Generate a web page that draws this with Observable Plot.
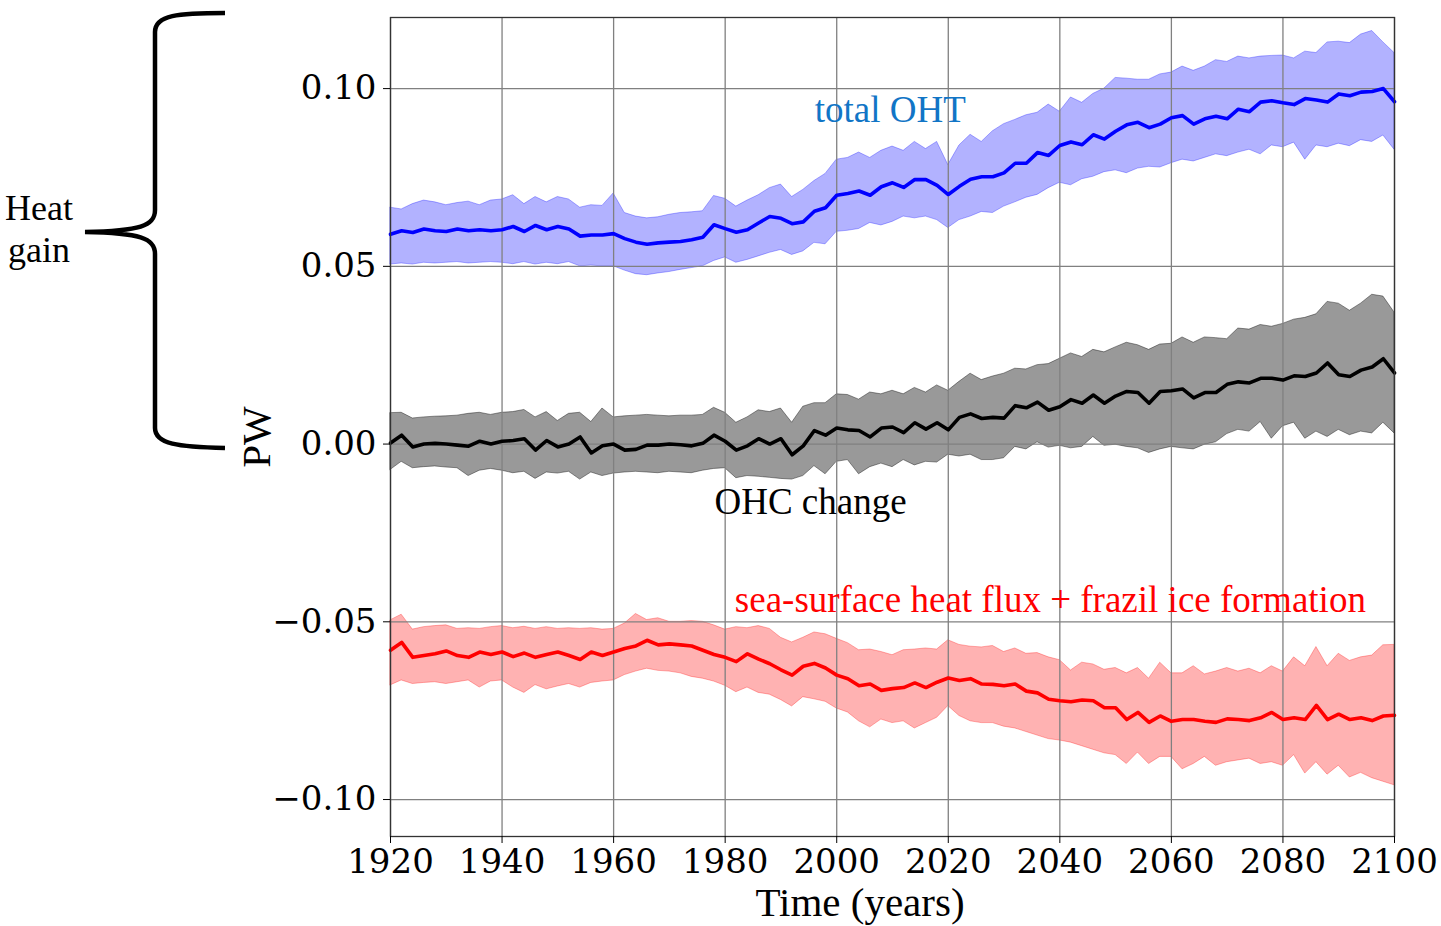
<!DOCTYPE html>
<html>
<head>
<meta charset="utf-8">
<script src="https://cdn.jsdelivr.net/npm/d3@7"></script>
<script src="https://cdn.jsdelivr.net/npm/@observablehq/plot@0.6"></script>
<style>
  html, body { margin: 0; padding: 0; background: #fff; }
  #chart svg { display: block; }
</style>
</head>
<body>
<div id="chart"></div>
<script>
// ---------- data ----------
const years = [1920,1922,1924,1926,1928,1930,1932,1934,1936,1938,1940,1942,1944,1946,1948,1950,1952,1954,1956,1958,
1960,1962,1964,1966,1968,1970,1972,1974,1976,1978,1980,1982,1984,1986,1988,1990,1992,1994,1996,1998,
2000,2002,2004,2006,2008,2010,2012,2014,2016,2018,2020,2022,2024,2026,2028,2030,2032,2034,2036,2038,
2040,2042,2044,2046,2048,2050,2052,2054,2056,2058,2060,2062,2064,2066,2068,2070,2072,2074,2076,2078,
2080,2082,2084,2086,2088,2090,2092,2094,2096,2098,2100];

const ohtMean = [0.0590,0.0600,0.0595,0.0605,0.0600,0.0598,0.0605,0.0600,0.0603,0.0600,0.0603,0.0612,0.0598,0.0615,0.0603,0.0612,0.0605,0.0585,0.0588,0.0588,
0.0592,0.0578,0.0568,0.0562,0.0566,0.0568,0.0570,0.0575,0.0582,0.0617,0.0606,0.0596,0.0603,0.0622,0.0640,0.0635,0.0620,0.0625,0.0655,0.0665,
0.0700,0.0705,0.0712,0.0700,0.0724,0.0735,0.0722,0.0744,0.0744,0.0728,0.0702,0.0725,0.0745,0.0752,0.0752,0.0763,0.0790,0.0790,0.0820,0.0812,
0.0840,0.0850,0.0842,0.0870,0.0858,0.0880,0.0898,0.0905,0.0890,0.0900,0.0918,0.0924,0.0900,0.0915,0.0922,0.0915,0.0942,0.0935,0.0962,0.0966,
0.0960,0.0955,0.0972,0.0968,0.0962,0.0985,0.0980,0.0990,0.0992,0.1000,0.0963];
const ohtHi = [0.0665,0.0660,0.0675,0.0685,0.0680,0.0672,0.0678,0.0682,0.0672,0.0685,0.0688,0.0700,0.0675,0.0695,0.0680,0.0695,0.0688,0.0665,0.0672,0.0670,
0.0705,0.0650,0.0640,0.0635,0.0638,0.0645,0.0650,0.0652,0.0655,0.0698,0.0690,0.0668,0.0685,0.0700,0.0720,0.0730,0.0695,0.0715,0.0740,0.0760,
0.0800,0.0805,0.0820,0.0805,0.0825,0.0837,0.0825,0.0850,0.0830,0.0850,0.0785,0.0840,0.0870,0.0850,0.0880,0.0900,0.0912,0.0925,0.0932,0.0955,
0.0935,0.0975,0.0960,0.0985,0.1000,0.1030,0.1028,0.1025,0.1025,0.1040,0.1045,0.1062,0.1050,0.1062,0.1080,0.1075,0.1090,0.1085,0.1090,0.1092,
0.1093,0.1085,0.1104,0.1100,0.1130,0.1132,0.1128,0.1152,0.1162,0.1130,0.1100];
const ohtLo = [0.0505,0.0508,0.0505,0.0510,0.0508,0.0510,0.0512,0.0508,0.0510,0.0512,0.0510,0.0506,0.0512,0.0505,0.0510,0.0506,0.0512,0.0500,0.0502,0.0500,
0.0500,0.0488,0.0478,0.0475,0.0480,0.0484,0.0490,0.0495,0.0500,0.0515,0.0525,0.0510,0.0518,0.0528,0.0538,0.0546,0.0532,0.0542,0.0566,0.0562,
0.0597,0.0600,0.0605,0.0622,0.0615,0.0625,0.0640,0.0635,0.0640,0.0630,0.0608,0.0630,0.0640,0.0653,0.0650,0.0668,0.0680,0.0693,0.0701,0.0720,
0.0735,0.0728,0.0745,0.0752,0.0765,0.0770,0.0762,0.0775,0.0780,0.0778,0.0790,0.0800,0.0795,0.0805,0.0815,0.0810,0.0820,0.0828,0.0815,0.0840,
0.0835,0.0848,0.0800,0.0840,0.0835,0.0845,0.0838,0.0855,0.0850,0.0868,0.0828];

const ohcMean = [0.0003,0.0025,-0.0008,0.0000,0.0002,0.0000,-0.0003,-0.0006,0.0008,0.0000,0.0008,0.0010,0.0015,-0.0017,0.0010,-0.0008,0.0000,0.0020,-0.0025,-0.0005,
0.0000,-0.0017,-0.0015,-0.0003,-0.0003,0.0000,-0.0002,-0.0005,0.0002,0.0025,0.0008,-0.0017,-0.0005,0.0015,0.0000,0.0015,-0.0030,-0.0005,0.0038,0.0025,
0.0045,0.0040,0.0038,0.0020,0.0045,0.0048,0.0032,0.0060,0.0042,0.0060,0.0040,0.0075,0.0085,0.0072,0.0075,0.0073,0.0108,0.0102,0.0118,0.0095,
0.0105,0.0125,0.0115,0.0138,0.0115,0.0135,0.0148,0.0145,0.0115,0.0148,0.0150,0.0155,0.0130,0.0145,0.0145,0.0168,0.0175,0.0172,0.0185,0.0185,
0.0180,0.0192,0.0190,0.0200,0.0228,0.0195,0.0190,0.0208,0.0217,0.0240,0.0200];
const ohcHi = [0.0087,0.0088,0.0072,0.0075,0.0077,0.0078,0.0080,0.0085,0.0088,0.0082,0.0088,0.0090,0.0096,0.0075,0.0090,0.0065,0.0085,0.0088,0.0062,0.0100,
0.0075,0.0078,0.0080,0.0082,0.0080,0.0078,0.0080,0.0080,0.0082,0.0102,0.0088,0.0060,0.0075,0.0095,0.0090,0.0100,0.0060,0.0105,0.0115,0.0115,
0.0140,0.0138,0.0125,0.0145,0.0140,0.0150,0.0140,0.0158,0.0145,0.0165,0.0150,0.0175,0.0198,0.0180,0.0190,0.0198,0.0212,0.0210,0.0222,0.0225,
0.0240,0.0255,0.0245,0.0265,0.0258,0.0272,0.0285,0.0278,0.0265,0.0280,0.0282,0.0300,0.0285,0.0300,0.0298,0.0295,0.0325,0.0322,0.0335,0.0330,
0.0338,0.0350,0.0355,0.0365,0.0400,0.0395,0.0375,0.0395,0.0420,0.0415,0.0370];
const ohcLo = [-0.0073,-0.0050,-0.0068,-0.0065,-0.0063,-0.0066,-0.0068,-0.0090,-0.0075,-0.0070,-0.0075,-0.0082,-0.0078,-0.0098,-0.0080,-0.0083,-0.0078,-0.0100,-0.0080,-0.0090,
-0.0083,-0.0080,-0.0078,-0.0080,-0.0082,-0.0078,-0.0080,-0.0082,-0.0075,-0.0070,-0.0068,-0.0096,-0.0090,-0.0092,-0.0095,-0.0098,-0.0100,-0.0090,-0.0062,-0.0085,
-0.0050,-0.0045,-0.0085,-0.0065,-0.0055,-0.0065,-0.0045,-0.0060,-0.0050,-0.0052,-0.0030,-0.0035,-0.0030,-0.0045,-0.0045,-0.0040,-0.0008,-0.0015,0.0005,-0.0010,
-0.0005,-0.0012,-0.0008,0.0020,-0.0005,-0.0002,-0.0008,-0.0012,-0.0025,-0.0015,-0.0008,-0.0012,-0.0015,-0.0002,0.0005,0.0028,0.0040,0.0035,0.0062,0.0015,
0.0050,0.0060,0.0015,0.0035,0.0020,0.0040,0.0025,0.0035,0.0030,0.0060,0.0030];

const shfMean = [-0.0580,-0.0558,-0.0600,-0.0595,-0.0590,-0.0582,-0.0595,-0.0600,-0.0585,-0.0592,-0.0585,-0.0598,-0.0588,-0.0600,-0.0592,-0.0585,-0.0595,-0.0606,-0.0585,-0.0595,
-0.0585,-0.0575,-0.0568,-0.0552,-0.0565,-0.0562,-0.0565,-0.0568,-0.0580,-0.0592,-0.0600,-0.0612,-0.0590,-0.0605,-0.0618,-0.0635,-0.0650,-0.0625,-0.0617,-0.0630,
-0.0650,-0.0660,-0.0680,-0.0675,-0.0693,-0.0688,-0.0685,-0.0672,-0.0685,-0.0670,-0.0658,-0.0665,-0.0660,-0.0675,-0.0676,-0.0680,-0.0675,-0.0695,-0.0700,-0.0718,
-0.0722,-0.0725,-0.0720,-0.0722,-0.0742,-0.0742,-0.0775,-0.0755,-0.0783,-0.0765,-0.0780,-0.0775,-0.0775,-0.0780,-0.0783,-0.0773,-0.0775,-0.0778,-0.0770,-0.0755,
-0.0775,-0.0770,-0.0775,-0.0735,-0.0775,-0.0760,-0.0775,-0.0770,-0.0778,-0.0765,-0.0763];
const shfHi = [-0.0496,-0.0480,-0.0522,-0.0515,-0.0512,-0.0510,-0.0520,-0.0518,-0.0520,-0.0515,-0.0512,-0.0518,-0.0514,-0.0520,-0.0515,-0.0520,-0.0518,-0.0520,-0.0518,-0.0522,
-0.0520,-0.0505,-0.0478,-0.0495,-0.0490,-0.0500,-0.0500,-0.0498,-0.0500,-0.0510,-0.0522,-0.0515,-0.0518,-0.0512,-0.0520,-0.0545,-0.0558,-0.0545,-0.0530,-0.0535,
-0.0548,-0.0560,-0.0580,-0.0578,-0.0585,-0.0594,-0.0580,-0.0578,-0.0575,-0.0578,-0.0552,-0.0565,-0.0570,-0.0572,-0.0568,-0.0585,-0.0575,-0.0590,-0.0588,-0.0600,
-0.0608,-0.0637,-0.0615,-0.0620,-0.0635,-0.0630,-0.0645,-0.0630,-0.0660,-0.0615,-0.0645,-0.0645,-0.0625,-0.0648,-0.0640,-0.0630,-0.0640,-0.0632,-0.0645,-0.0625,
-0.0640,-0.0600,-0.0625,-0.0571,-0.0625,-0.0590,-0.0610,-0.0600,-0.0595,-0.0566,-0.0565];
const shfLo = [-0.0679,-0.0665,-0.0675,-0.0672,-0.0670,-0.0675,-0.0670,-0.0665,-0.0685,-0.0668,-0.0665,-0.0685,-0.0700,-0.0678,-0.0690,-0.0682,-0.0675,-0.0685,-0.0672,-0.0668,
-0.0665,-0.0650,-0.0640,-0.0632,-0.0638,-0.0640,-0.0645,-0.0655,-0.0660,-0.0668,-0.0680,-0.0698,-0.0685,-0.0700,-0.0705,-0.0720,-0.0738,-0.0712,-0.0718,-0.0725,
-0.0744,-0.0755,-0.0780,-0.0797,-0.0775,-0.0785,-0.0780,-0.0800,-0.0785,-0.0770,-0.0737,-0.0765,-0.0780,-0.0785,-0.0785,-0.0795,-0.0800,-0.0810,-0.0820,-0.0830,
-0.0834,-0.0840,-0.0850,-0.0860,-0.0870,-0.0875,-0.0900,-0.0868,-0.0900,-0.0880,-0.0880,-0.0915,-0.0900,-0.0880,-0.0905,-0.0895,-0.0890,-0.0885,-0.0900,-0.0895,
-0.0905,-0.0875,-0.0927,-0.0895,-0.0930,-0.0905,-0.0938,-0.0925,-0.0940,-0.0950,-0.0960];

const xTicks = [1920,1940,1960,1980,2000,2020,2040,2060,2080,2100];
const yTicks = [-0.10,-0.05,0.00,0.05,0.10];

const seriesNames = ["total OHT", "OHC change", "sea-surface heat flux + frazil ice formation"];
const seriesColors = ["#0000ff", "#000000", "#ff0000"];
const labelColors = ["#1175c6", "#000000", "#ff0000"];

// ---------- build tables ----------
function table(mean, lo, hi) {
  return years.map((y, i) => ({year: y, mean: mean[i], lo: lo[i], hi: hi[i]}));
}
const oht = table(ohtMean, ohtLo, ohtHi);
const ohc = table(ohcMean, ohcLo, ohcHi);
const shf = table(shfMean, shfLo, shfHi);

const labels = [
  {year: 2009.6, v: 0.0940, text: seriesNames[0], color: labelColors[0]},
  {year: 1995.3, v: -0.0163, text: seriesNames[1], color: labelColors[1]},
  {year: 2038.3, v: -0.0440, text: seriesNames[2], color: labelColors[2]}
];

const fmtY = d => (Math.abs(d) < 1e-9 ? "0.00" : d.toFixed(2).replace("-", "\u2212"));

const band = (data, color, op) => Plot.areaY(data, {
  x: "year", y1: "lo", y2: "hi", fill: color, fillOpacity: op,
  stroke: color, strokeOpacity: op, strokeWidth: 1
});
const line = (data, color) => Plot.line(data, {
  x: "year", y: "mean", stroke: color, strokeWidth: 3.6, strokeLinejoin: "round"
});

const chart = Plot.plot({
  width: 1441,
  height: 926,
  marginLeft: 390,
  marginRight: 47,
  marginTop: 17,
  marginBottom: 90,
  style: {background: "#fff", color: "#000"},
  x: {domain: [1920, 2100]},
  y: {domain: [-0.1104, 0.1200]},
  marks: [
    band(oht, seriesColors[0], 0.3),
    band(ohc, seriesColors[1], 0.4),
    band(shf, seriesColors[2], 0.3),
    Plot.ruleX(xTicks, {stroke: "#808080", strokeWidth: 1.3}),
    Plot.ruleY(yTicks, {stroke: "#808080", strokeWidth: 1.3}),
    line(oht, seriesColors[0]),
    line(ohc, seriesColors[1]),
    line(shf, seriesColors[2]),
    Plot.frame({stroke: "#333", strokeWidth: 1.3}),
    Plot.axisY({ticks: yTicks, tickFormat: fmtY, tickSize: 7, tickPadding: 7,
      fontSize: 34, fontFamily: "DejaVu Serif", label: null}),
    Plot.axisX({ticks: xTicks, tickFormat: d => String(d), tickSize: 7, tickPadding: 5,
      fontSize: 34, fontFamily: "DejaVu Serif", label: null}),
    Plot.text(labels, {x: "year", y: "v", text: "text", fill: "color",
      fontSize: 37, fontFamily: "Liberation Serif", textAnchor: "middle", lineAnchor: "middle"})
  ]
});

document.getElementById("chart").appendChild(chart);

// ---------- axis titles and the "Heat gain" brace (annotations) ----------
const svg = d3.select(chart);
const serif = "Liberation Serif";
svg.append("text").attr("x", 860).attr("y", 916).attr("text-anchor", "middle")
  .attr("font-family", serif).attr("font-size", 41).attr("fill", "#000").text("Time (years)");
svg.append("text").attr("transform", "translate(270,437) rotate(-90)").attr("text-anchor", "middle")
  .attr("font-family", serif).attr("font-size", 41).attr("fill", "#000").text("PW");
svg.append("text").attr("x", 39).attr("y", 220).attr("text-anchor", "middle")
  .attr("font-family", serif).attr("font-size", 36).attr("fill", "#000").text("Heat");
svg.append("text").attr("x", 39).attr("y", 262).attr("text-anchor", "middle")
  .attr("font-family", serif).attr("font-size", 36).attr("fill", "#000").text("gain");
svg.append("path")
  .attr("d", "M225,13 C178,13 155,15 155,32 L155,210 C155,226 140,231 85,232 C140,233 155,238 155,254 L155,428 C155,444 178,447 225,448")
  .attr("fill", "none").attr("stroke", "#000").attr("stroke-width", 4.5);
</script>
</body>
</html>
